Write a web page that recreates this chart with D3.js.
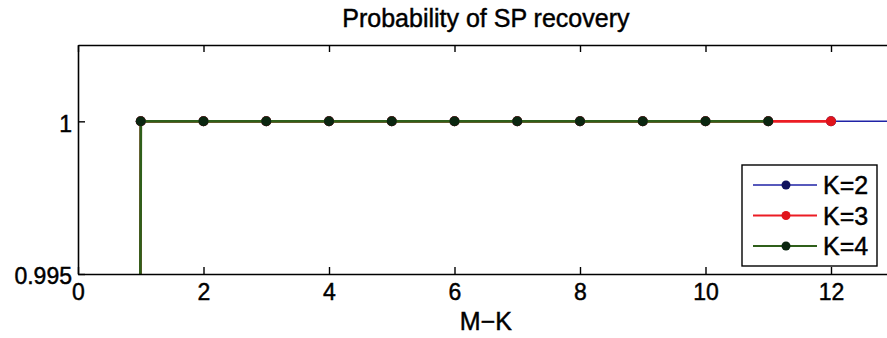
<!DOCTYPE html>
<html>
<head>
<meta charset="utf-8">
<script src="https://cdn.jsdelivr.net/npm/d3@7/dist/d3.min.js"></script>
</head>
<body style="margin: 0; background: #ffffff; overflow: hidden;">
<svg id="chart" width="887" height="338"></svg>
<script>
    'use strict';

    // M-K values and recovery probability for each K
    var mk2 = [0, 1, 2, 3, 4, 5, 6, 7, 8, 9, 10, 11, 12, 13, 14];
    var p2  = [0, 1, 1, 1, 1, 1, 1, 1, 1, 1, 1, 1, 1, 1, 1];
    var mk3 = [0, 1, 2, 3, 4, 5, 6, 7, 8, 9, 10, 11, 12];
    var p3  = [0, 1, 1, 1, 1, 1, 1, 1, 1, 1, 1, 1, 1];
    var mk4 = [0, 1, 2, 3, 4, 5, 6, 7, 8, 9, 10, 11];
    var p4  = [0, 1, 1, 1, 1, 1, 1, 1, 1, 1, 1, 1];

    var xTicks = [0, 2, 4, 6, 8, 10, 12];
    var yTicks = [0.995, 1];
    var legendLabels = ["K=2", "K=3", "K=4"];

    var series = [
        {x: mk2, y: p2, line: "#1f22a6", marker: "#10125e", width: 1.5},
        {x: mk3, y: p3, line: "#ec1c24", marker: "#e0141c", width: 2.6},
        {x: mk4, y: p4, line: "#2f5f1a", marker: "#0b2610", width: 2.8}
    ];

    var plotLeft = 78, plotTop = 45, plotBottom = 274;
    var font = "'Liberation Sans', Arial, sans-serif";

    var x = d3.scaleLinear().domain([0, 13]).range([plotLeft, plotLeft + 13 * 62.75]);
    var y = d3.scaleLinear().domain([0.995, 1.0025]).range([plotBottom, plotTop]);
    var plotRight = x.range()[1];

    var svg = d3.select("#chart");

    svg.append("defs").append("clipPath").attr("id", "plotclip")
        .append("rect")
        .attr("x", plotLeft).attr("y", plotTop)
        .attr("width", plotRight - plotLeft).attr("height", plotBottom - plotTop);

    // data lines and markers
    var plot = svg.append("g").attr("clip-path", "url(#plotclip)");
    var line = d3.line().x(function(d) { return x(d[0]); }).y(function(d) { return y(d[1]); });

    series.forEach(function(s) {
        var pts = s.x.map(function(v, i) { return [v, s.y[i]]; });
        plot.append("path")
            .attr("d", line(pts))
            .attr("fill", "none")
            .attr("stroke", s.line)
            .attr("stroke-width", s.width);
        plot.selectAll(null)
            .data(pts)
            .enter().append("circle")
            .attr("cx", function(d) { return x(d[0]); })
            .attr("cy", function(d) { return y(d[1]); })
            .attr("r", 5)
            .attr("fill", s.marker);
    });

    function boldText(sel, size) {
        sel.attr("font-family", font).attr("font-size", size).attr("fill", "#000")
            .attr("stroke", "#000").attr("stroke-width", 0.45);
    }

    // axes: bottom with labels, top ticks only, left with labels
    var tickLen = 7;
    svg.append("g")
        .attr("transform", "translate(0," + plotBottom + ")")
        .call(d3.axisBottom(x).tickValues(xTicks).tickSizeInner(-tickLen).tickSizeOuter(0).tickPadding(10)
            .tickFormat(d3.format("d")))
        .call(function(g) {
            g.select(".domain").attr("stroke-width", 1.6);
            g.selectAll("line").attr("stroke-width", 1.4);
            boldText(g.selectAll("text"), 23);
        });

    svg.append("g")
        .attr("transform", "translate(0," + plotTop + ")")
        .call(d3.axisTop(x).tickValues(xTicks).tickSizeInner(-tickLen).tickSizeOuter(0).tickFormat(""))
        .call(function(g) {
            g.select(".domain").attr("stroke-width", 1.6);
            g.selectAll("line").attr("stroke-width", 1.4);
        });

    svg.append("g")
        .attr("transform", "translate(" + plotLeft + ",0)")
        .call(d3.axisLeft(y).tickValues(yTicks).tickSizeInner(-tickLen).tickSizeOuter(0).tickPadding(6)
            .tickFormat(function(d) { return d === 1 ? "1" : d3.format(".3f")(d); }))
        .call(function(g) {
            g.select(".domain").attr("stroke-width", 1.6);
            g.selectAll("line").attr("stroke-width", 1.4);
            boldText(g.selectAll("text"), 23);
            g.selectAll("text").attr("dy", "0.42em");
        });

    // title and x label
    svg.append("text")
        .attr("x", (plotLeft + plotRight) / 2).attr("y", 27)
        .attr("text-anchor", "middle")
        .call(boldText, 25)
        .text("Probability of SP recovery");

    svg.append("text")
        .attr("x", (plotLeft + plotRight) / 2).attr("y", 330)
        .attr("text-anchor", "middle")
        .call(boldText, 25)
        .text("M\u2212K");

    // legend
    var legend = svg.append("g");
    legend.append("rect")
        .attr("x", 742).attr("y", 165)
        .attr("width", 135).attr("height", 101)
        .attr("fill", "#fff").attr("stroke", "#000").attr("stroke-width", 1.4);

    legendLabels.forEach(function(lab, i) {
        var s = series[i];
        var ly = 185 + i * 30.5;
        legend.append("line")
            .attr("x1", 753).attr("x2", 817).attr("y1", ly).attr("y2", ly)
            .attr("stroke", s.line).attr("stroke-width", Math.min(s.width, 2.2));
        legend.append("circle")
            .attr("cx", 786).attr("cy", ly).attr("r", 4.5).attr("fill", s.marker);
        legend.append("text")
            .attr("x", 823).attr("y", ly).attr("dy", "0.36em")
            .call(boldText, 25)
            .text(lab);
    });
</script>
</body>
</html>
